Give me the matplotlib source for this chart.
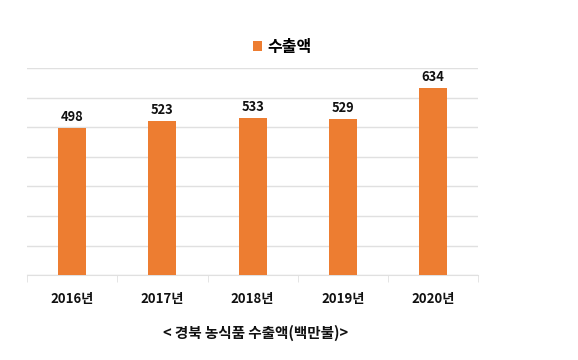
import matplotlib.pyplot as plt
import numpy as np

plt.rcParams['font.family'] = ['Noto Sans CJK KR', 'DejaVu Sans']

years = ["2016년", "2017년", "2018년", "2019년", "2020년"]
exports = [498, 523, 533, 529, 634]
series_name = "수출액"
caption = "< 경북 농식품 수출액(백만불)>"

bar_color = "#ED7D31"
grid_color = "#E0E0E0"

fig = plt.figure(figsize=(5.78, 3.6), dpi=100)
ax = fig.add_axes([0.047, 0.236, 0.78, 0.574])

x = np.arange(len(years))
bars = ax.bar(x, exports, width=0.31, color=bar_color, label=series_name, zorder=3)

for xi, v in zip(x, exports):
    ax.text(xi, v + 12, str(v), ha="center", va="bottom",
            fontsize=9.3, fontweight="bold", color="#111111")

ax.set_xlim(-0.5, len(years) - 0.5)
ax.set_ylim(0, 700)
ax.set_yticks(np.arange(0, 701, 100))
ax.yaxis.grid(True, color=grid_color, linewidth=1, zorder=0)
ax.tick_params(axis="y", left=False, labelleft=False)

ax.set_xticks(x)
ax.set_xticklabels(years, fontsize=9.5, fontweight="bold", color="#111111")
ax.set_xticks(np.arange(-0.5, len(years)), minor=True)
ax.tick_params(axis="x", which="major", length=0, pad=12)
ax.tick_params(axis="x", which="minor", length=5, color=grid_color)

for side in ["top", "right", "left"]:
    ax.spines[side].set_visible(False)
ax.spines["bottom"].set_color(grid_color)

fig.legend(handles=[bars], labels=[series_name], loc="center",
           bbox_to_anchor=(0.488, 0.87), frameon=False,
           prop={"size": 11.5, "weight": "bold"},
           handlelength=0.6, handleheight=0.6, handletextpad=0.3)

fig.text(0.443, 1 - 333 / 360, caption, ha="center", va="center",
         fontsize=10.5, fontweight="bold", color="#111111")

fig.savefig("out.png", dpi=100, facecolor="white")
